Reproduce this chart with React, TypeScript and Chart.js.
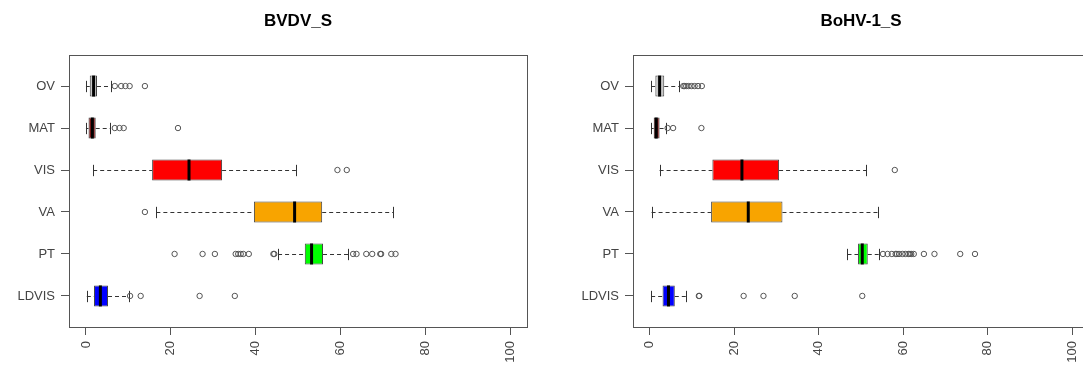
import React, { useEffect, useRef } from 'react';
import { Chart, registerables } from 'chart.js';

Chart.register(...registerables);

const categories = ['OV', 'MAT', 'VIS', 'VA', 'PT', 'LDVIS'];
const boxColors = ['#c8c8c8', '#8b1a1a', '#ff0000', '#f8a400', '#00ff00', '#0000ff'];
const xTickValues = [0, 20, 40, 60, 80, 100];

// BVDV_S
const bvdvMin = [0, 0, 1.7, 16.6, 45.3, 0.2];
const bvdvQ1 = [0.9, 0.6, 15.6, 39.6, 51.6, 1.9];
const bvdvMedian = [1.8, 1.5, 24.3, 49.2, 53.2, 3.4];
const bvdvQ3 = [2.6, 2.3, 32.1, 55.7, 55.9, 5.2];
const bvdvMax = [5.8, 5.7, 49.5, 72.5, 61.8, 10.1];
const bvdvOutliers = [
  [6.8, 8.3, 9.3, 10.3, 13.9],
  [6.8, 7.9, 8.9, 21.7],
  [59.3, 61.5],
  [13.9],
  [20.9, 27.5, 30.4, 35.3, 35.9, 36.5, 37.1, 38.4, 44.2, 44.4, 63.0, 63.8, 66.1, 67.5, 69.4, 69.6, 72.0, 73.0],
  [10.4, 12.9, 26.8, 35.1],
];

// BoHV-1_S
const bohvMin = [0.3, 0.3, 2.3, 0.4, 46.8, 0.3];
const bohvQ1 = [1.3, 0.9, 14.8, 14.5, 49.3, 3.0];
const bohvMedian = [2.3, 1.5, 21.8, 23.3, 50.3, 4.4];
const bohvQ3 = [3.4, 2.3, 30.6, 31.4, 51.6, 5.9];
const bohvMax = [7.0, 3.9, 51.2, 54.1, 54.2, 8.6];
const bohvOutliers = [
  [7.9, 8.2, 8.6, 9.2, 9.9, 10.6, 11.4, 12.3],
  [4.2, 5.5, 12.2],
  [58.0],
  [],
  [55.2, 56.3, 57.3, 58.2, 58.5, 59.0, 59.8, 60.5, 61.2, 61.6, 61.9, 62.5, 64.9, 67.4, 73.5, 77.0],
  [11.6, 11.7, 22.2, 26.9, 34.3, 50.3],
];

const FONT = "'Liberation Sans', Arial, Helvetica, sans-serif";

type PanelProps = {
  title: string;
  mins: number[];
  q1s: number[];
  medians: number[];
  q3s: number[];
  maxs: number[];
  outliers: number[][];
  left: number;
  width: number;
  yAxisWidth: number;
  padRight: number;
};

function BoxPanel(props: PanelProps) {
  const ref = useRef<HTMLCanvasElement>(null);
  useEffect(() => {
    const { title, mins, q1s, medians, q3s, maxs, outliers, yAxisWidth, padRight } = props;
    const boxData = categories.map((_, i) => ({ x: [q1s[i], q3s[i]], y: i + 1 }));
    const outlierData = outliers.flatMap((vals, i) => vals.map((v) => ({ x: v, y: i + 1 })));

    const extras = {
      id: 'boxExtras',
      beforeDatasetsDraw(chart: any) {
        const ctx = chart.ctx;
        const xs = chart.scales.x;
        const meta = chart.getDatasetMeta(0);
        ctx.save();
        ctx.strokeStyle = '#333';
        ctx.lineWidth = 1;
        meta.data.forEach((el: any, i: number) => {
          const y = Math.round(el.y) + 0.5;
          const cap = el.height * 0.27;
          const pMin = xs.getPixelForValue(mins[i]);
          const pQ1 = xs.getPixelForValue(q1s[i]);
          const pQ3 = xs.getPixelForValue(q3s[i]);
          const pMax = xs.getPixelForValue(maxs[i]);
          ctx.setLineDash([4, 3]);
          ctx.beginPath();
          ctx.moveTo(pMin, y);
          ctx.lineTo(pQ1, y);
          ctx.moveTo(pQ3, y);
          ctx.lineTo(pMax, y);
          ctx.stroke();
          ctx.setLineDash([]);
          ctx.beginPath();
          ctx.moveTo(Math.round(pMin) + 0.5, y - cap);
          ctx.lineTo(Math.round(pMin) + 0.5, y + cap);
          ctx.moveTo(Math.round(pMax) + 0.5, y - cap);
          ctx.lineTo(Math.round(pMax) + 0.5, y + cap);
          ctx.stroke();
        });
        ctx.restore();
      },
      afterDatasetsDraw(chart: any) {
        const ctx = chart.ctx;
        const xs = chart.scales.x;
        const meta = chart.getDatasetMeta(0);
        ctx.save();
        ctx.strokeStyle = '#000';
        ctx.lineWidth = 3;
        meta.data.forEach((el: any, i: number) => {
          const p = xs.getPixelForValue(medians[i]);
          const h = el.height / 2;
          ctx.beginPath();
          ctx.moveTo(p, el.y - h);
          ctx.lineTo(p, el.y + h);
          ctx.stroke();
        });
        ctx.restore();
      },
      afterDraw(chart: any) {
        const { left, top, right, bottom } = chart.chartArea;
        const ctx = chart.ctx;
        ctx.save();
        ctx.strokeStyle = '#555';
        ctx.lineWidth = 1;
        ctx.strokeRect(Math.round(left) + 0.5, Math.round(top) + 0.5, Math.round(right - left), Math.round(bottom - top));
        ctx.restore();
      },
    };

    const chart = new Chart(ref.current!, {
      type: 'bar',
      data: {
        datasets: [
          {
            type: 'bar',
            data: boxData as any,
            backgroundColor: boxColors,
            borderColor: '#444',
            borderWidth: 1,
            borderSkipped: false,
            barPercentage: 0.5,
            categoryPercentage: 1,
            order: 2,
          } as any,
          {
            type: 'scatter',
            data: outlierData as any,
            pointRadius: 2.7,
            pointHoverRadius: 2.7,
            pointStyle: 'circle',
            backgroundColor: 'rgba(0,0,0,0)',
            borderColor: '#555',
            borderWidth: 1,
            order: 1,
          } as any,
        ],
      },
      options: {
        indexAxis: 'y',
        animation: false,
        responsive: false,
        events: [],
        layout: { padding: { left: 0, right: padRight, top: 0, bottom: 0 } },
        plugins: {
          legend: { display: false },
          tooltip: { enabled: false },
          title: {
            display: true,
            text: title,
            fullSize: false,
            color: '#000',
            font: { family: FONT, size: 17, weight: 'bold', lineHeight: 1.2 },
            padding: { top: 11, bottom: 23.6 },
          },
        },
        scales: {
          x: {
            type: 'linear',
            min: -4,
            max: 104,
            offset: false,
            afterBuildTicks: (s: any) => {
              s.ticks = xTickValues.map((v) => ({ value: v }));
            },
            afterFit: (s: any) => {
              s.height = 40;
            },
            border: { display: false },
            grid: { offset: false, drawOnChartArea: false, drawTicks: true, tickLength: 8, color: '#555' },
            ticks: {
              autoSkip: false,
              minRotation: 90,
              maxRotation: 90,
              padding: 6,
              color: '#444',
              font: { family: FONT, size: 13 },
            },
          },
          y: {
            type: 'linear',
            min: 0.26,
            max: 6.74,
            reverse: true,
            offset: false,
            afterBuildTicks: (s: any) => {
              s.ticks = categories.map((_, i) => ({ value: i + 1 }));
            },
            afterFit: (s: any) => {
              s.width = yAxisWidth;
            },
            border: { display: false },
            grid: { offset: false, drawOnChartArea: false, drawTicks: true, tickLength: 8, color: '#555' },
            ticks: {
              autoSkip: false,
              padding: 6,
              color: '#444',
              font: { family: FONT, size: 13 },
              callback: (v: any) => categories[Number(v) - 1] ?? '',
            },
          },
        },
      } as any,
      plugins: [extras],
    });
    return () => chart.destroy();
  }, []);

  return (
    <canvas
      ref={ref}
      width={props.width}
      height={367}
      style={{ position: 'absolute', left: props.left, top: 0, width: props.width, height: 367 }}
    />
  );
}

export default function App() {
  return (
    <div
      style={{
        position: 'absolute',
        left: 0,
        top: 0,
        width: 1083,
        height: 367,
        overflow: 'hidden',
        background: '#fff',
      }}
    >
      <BoxPanel
        title="BVDV_S"
        mins={bvdvMin}
        q1s={bvdvQ1}
        medians={bvdvMedian}
        q3s={bvdvQ3}
        maxs={bvdvMax}
        outliers={bvdvOutliers}
        left={0}
        width={541}
        yAxisWidth={69}
        padRight={14}
      />
      <BoxPanel
        title="BoHV-1_S"
        mins={bohvMin}
        q1s={bohvQ1}
        medians={bohvMedian}
        q3s={bohvQ3}
        maxs={bohvMax}
        outliers={bohvOutliers}
        left={541}
        width={560}
        yAxisWidth={92}
        padRight={12}
      />
    </div>
  );
}
